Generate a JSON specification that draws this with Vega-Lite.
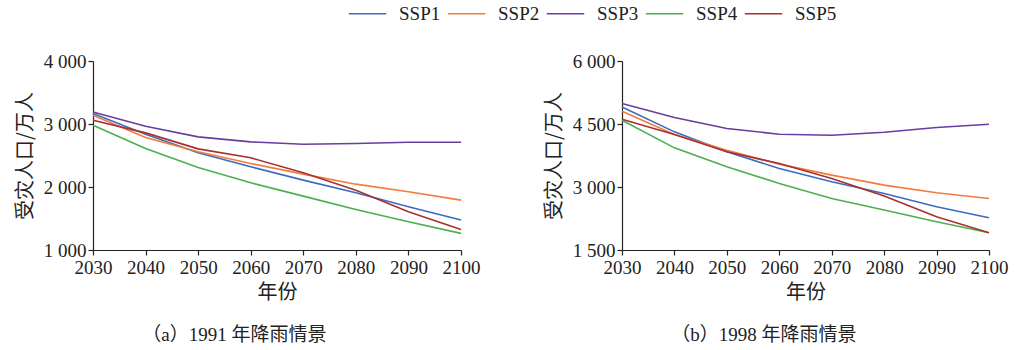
{
  "$schema": "https://vega.github.io/schema/vega-lite/v6.json",
  "background": "white",
  "padding": {"left": 15, "top": 3, "right": 20, "bottom": 2},
  "datasets": {
    "a": [
      {"year": 2030, "scenario": "SSP1", "value": 3165},
      {"year": 2040, "scenario": "SSP1", "value": 2838},
      {"year": 2050, "scenario": "SSP1", "value": 2542},
      {"year": 2060, "scenario": "SSP1", "value": 2320},
      {"year": 2070, "scenario": "SSP1", "value": 2109},
      {"year": 2080, "scenario": "SSP1", "value": 1908},
      {"year": 2090, "scenario": "SSP1", "value": 1686},
      {"year": 2100, "scenario": "SSP1", "value": 1475},
      {"year": 2030, "scenario": "SSP2", "value": 3139},
      {"year": 2040, "scenario": "SSP2", "value": 2785},
      {"year": 2050, "scenario": "SSP2", "value": 2558},
      {"year": 2060, "scenario": "SSP2", "value": 2373},
      {"year": 2070, "scenario": "SSP2", "value": 2204},
      {"year": 2080, "scenario": "SSP2", "value": 2045},
      {"year": 2090, "scenario": "SSP2", "value": 1924},
      {"year": 2100, "scenario": "SSP2", "value": 1792},
      {"year": 2030, "scenario": "SSP3", "value": 3192},
      {"year": 2040, "scenario": "SSP3", "value": 2965},
      {"year": 2050, "scenario": "SSP3", "value": 2796},
      {"year": 2060, "scenario": "SSP3", "value": 2716},
      {"year": 2070, "scenario": "SSP3", "value": 2679},
      {"year": 2080, "scenario": "SSP3", "value": 2690},
      {"year": 2090, "scenario": "SSP3", "value": 2711},
      {"year": 2100, "scenario": "SSP3", "value": 2711},
      {"year": 2030, "scenario": "SSP4", "value": 2980},
      {"year": 2040, "scenario": "SSP4", "value": 2611},
      {"year": 2050, "scenario": "SSP4", "value": 2310},
      {"year": 2060, "scenario": "SSP4", "value": 2067},
      {"year": 2070, "scenario": "SSP4", "value": 1855},
      {"year": 2080, "scenario": "SSP4", "value": 1644},
      {"year": 2090, "scenario": "SSP4", "value": 1449},
      {"year": 2100, "scenario": "SSP4", "value": 1264},
      {"year": 2030, "scenario": "SSP5", "value": 3060},
      {"year": 2040, "scenario": "SSP5", "value": 2859},
      {"year": 2050, "scenario": "SSP5", "value": 2605},
      {"year": 2060, "scenario": "SSP5", "value": 2463},
      {"year": 2070, "scenario": "SSP5", "value": 2225},
      {"year": 2080, "scenario": "SSP5", "value": 1950},
      {"year": 2090, "scenario": "SSP5", "value": 1607},
      {"year": 2100, "scenario": "SSP5", "value": 1327}
    ],
    "b": [
      {"year": 2030, "scenario": "SSP1", "value": 4907},
      {"year": 2040, "scenario": "SSP1", "value": 4313},
      {"year": 2050, "scenario": "SSP1", "value": 3837},
      {"year": 2060, "scenario": "SSP1", "value": 3441},
      {"year": 2070, "scenario": "SSP1", "value": 3124},
      {"year": 2080, "scenario": "SSP1", "value": 2847},
      {"year": 2090, "scenario": "SSP1", "value": 2530},
      {"year": 2100, "scenario": "SSP1", "value": 2269},
      {"year": 2030, "scenario": "SSP2", "value": 4804},
      {"year": 2040, "scenario": "SSP2", "value": 4249},
      {"year": 2050, "scenario": "SSP2", "value": 3877},
      {"year": 2060, "scenario": "SSP2", "value": 3544},
      {"year": 2070, "scenario": "SSP2", "value": 3283},
      {"year": 2080, "scenario": "SSP2", "value": 3045},
      {"year": 2090, "scenario": "SSP2", "value": 2863},
      {"year": 2100, "scenario": "SSP2", "value": 2728},
      {"year": 2030, "scenario": "SSP3", "value": 4986},
      {"year": 2040, "scenario": "SSP3", "value": 4653},
      {"year": 2050, "scenario": "SSP3", "value": 4392},
      {"year": 2060, "scenario": "SSP3", "value": 4257},
      {"year": 2070, "scenario": "SSP3", "value": 4233},
      {"year": 2080, "scenario": "SSP3", "value": 4305},
      {"year": 2090, "scenario": "SSP3", "value": 4415},
      {"year": 2100, "scenario": "SSP3", "value": 4495},
      {"year": 2030, "scenario": "SSP4", "value": 4590},
      {"year": 2040, "scenario": "SSP4", "value": 3932},
      {"year": 2050, "scenario": "SSP4", "value": 3481},
      {"year": 2060, "scenario": "SSP4", "value": 3085},
      {"year": 2070, "scenario": "SSP4", "value": 2728},
      {"year": 2080, "scenario": "SSP4", "value": 2451},
      {"year": 2090, "scenario": "SSP4", "value": 2174},
      {"year": 2100, "scenario": "SSP4", "value": 1912},
      {"year": 2030, "scenario": "SSP5", "value": 4613},
      {"year": 2040, "scenario": "SSP5", "value": 4249},
      {"year": 2050, "scenario": "SSP5", "value": 3837},
      {"year": 2060, "scenario": "SSP5", "value": 3560},
      {"year": 2070, "scenario": "SSP5", "value": 3203},
      {"year": 2080, "scenario": "SSP5", "value": 2783},
      {"year": 2090, "scenario": "SSP5", "value": 2292},
      {"year": 2100, "scenario": "SSP5", "value": 1912}
    ]
  },
  "config": {
    "font": "Liberation Serif, Noto Sans CJK SC",
    "view": {"stroke": null},
    "axis": {
      "grid": false,
      "domainColor": "#222",
      "domainWidth": 1.2,
      "tickColor": "#222",
      "tickWidth": 1.2,
      "tickSize": 5,
      "labelColor": "#222",
      "labelFont": "Liberation Serif, DejaVu Serif, serif",
      "labelFontSize": 19,
      "labelFlush": false,
      "labelOverlap": false,
      "titleColor": "#222",
      "titleFont": "Noto Sans CJK SC",
      "titleFontWeight": "normal",
      "titleFontSize": 20
    },
    "title": {
      "font": "Liberation Serif, Noto Sans CJK SC",
      "fontSize": 19,
      "fontWeight": "normal",
      "color": "#222",
      "orient": "bottom",
      "anchor": "start",
      "frame": "bounds",
      "dx": 127,
      "offset": 24
    },
    "legend": {
      "orient": "none",
      "legendX": 264,
      "legendY": -58,
      "direction": "horizontal",
      "title": null,
      "symbolType": "M-2,0H2",
      "symbolSize": 350,
      "symbolStrokeWidth": 1.6,
      "labelFont": "Liberation Serif, DejaVu Serif, serif",
      "labelFontSize": 19,
      "labelColor": "#222",
      "columnPadding": 3,
      "labelOffset": 21
    }
  },
  "spacing": 64,
  "resolve": {"scale": {"color": "shared"}},
  "hconcat": [
    {
      "width": 368,
      "height": 189,
      "data": {"name": "a"},
      "title": "（a）1991 年降雨情景",
      "mark": {"type": "line", "strokeWidth": 1.6},
      "encoding": {
        "x": {"field": "year", "type": "quantitative", "scale": {"domain": [2030, 2100], "nice": false, "zero": false},
              "axis": {"values": [2030, 2040, 2050, 2060, 2070, 2080, 2090, 2100], "format": "d", "title": "年份", "titlePadding": 5, "labelPadding": 3}},
        "y": {"field": "value", "type": "quantitative", "scale": {"domain": [1000, 4000], "nice": false, "zero": false},
              "axis": {"values": [1000, 2000, 3000, 4000], "labelExpr": "replace(format(datum.value, ','), ',', ' ')", "title": "受灾人口/万人", "titlePadding": 8}},
        "color": {"field": "scenario", "type": "nominal",
                  "scale": {"domain": ["SSP1", "SSP2", "SSP3", "SSP4", "SSP5"], "range": ["#3a6cbf", "#f37b3c", "#6a3d9e", "#4caf50", "#a8302f"]}}
      }
    },
    {
      "width": 367,
      "height": 189,
      "data": {"name": "b"},
      "title": "（b）1998 年降雨情景",
      "mark": {"type": "line", "strokeWidth": 1.6},
      "encoding": {
        "x": {"field": "year", "type": "quantitative", "scale": {"domain": [2030, 2100], "nice": false, "zero": false},
              "axis": {"values": [2030, 2040, 2050, 2060, 2070, 2080, 2090, 2100], "format": "d", "title": "年份", "titlePadding": 5, "labelPadding": 3}},
        "y": {"field": "value", "type": "quantitative", "scale": {"domain": [1500, 6000], "nice": false, "zero": false},
              "axis": {"values": [1500, 3000, 4500, 6000], "labelExpr": "replace(format(datum.value, ','), ',', ' ')", "title": "受灾人口/万人", "titlePadding": 8}},
        "color": {"field": "scenario", "type": "nominal"}
      }
    }
  ]
}
